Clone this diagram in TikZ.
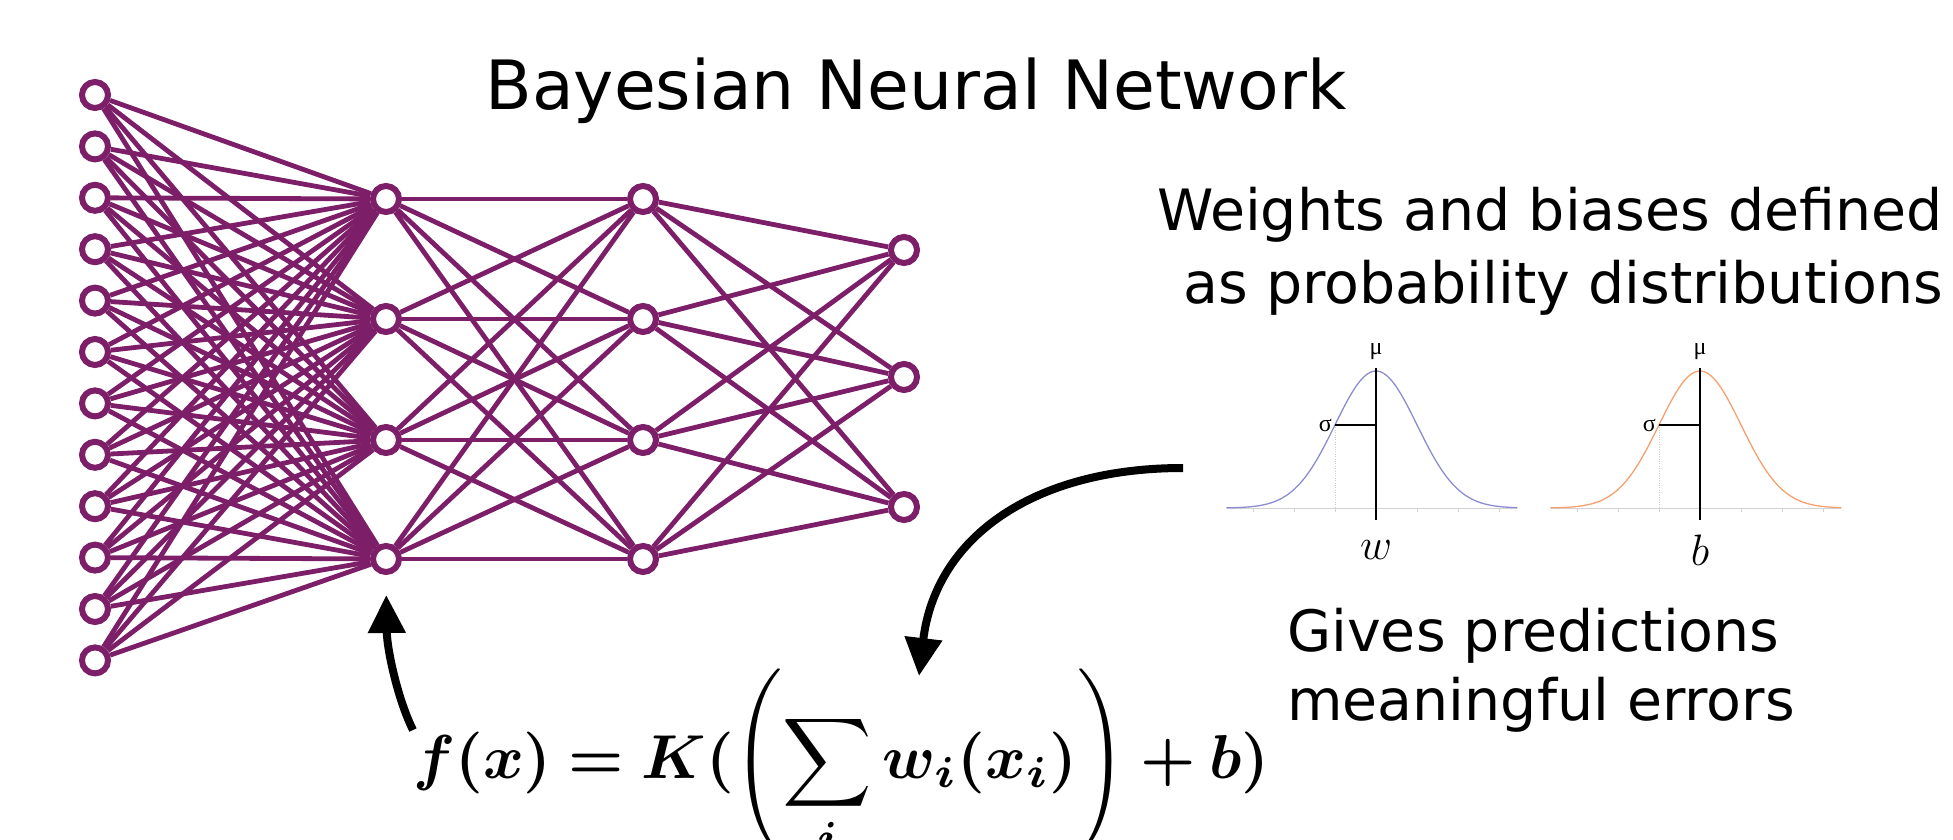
\RequirePackage{fix-cm}
\documentclass[tikz,border=0pt]{standalone}
\usepackage{amsmath}
\usepackage{fontspec}
\usepackage{bm}
\newfontfamily\slidefont{DejaVu Sans}
\newfontfamily\greekfont{Liberation Serif}
\usetikzlibrary{arrows.meta}
\definecolor{netpurple}{RGB}{125,30,105}
\definecolor{wblue}{RGB}{140,140,210}
\definecolor{borange}{RGB}{245,160,110}

\begin{document}
\begin{tikzpicture}[x=1pt, y=-1pt,
    vertex/.style={circle, draw=netpurple, line width=6pt, fill=white, minimum size=26pt, inner sep=0pt},
    link/.style={netpurple, line width=4.8pt},
    bigarrow/.style={line width=8pt, -{Triangle[length=38pt,width=36pt]}},
    slide/.style={font=\slidefont\fontsize{57}{68}\selectfont, inner sep=0pt},
    heading/.style={font=\slidefont\fontsize{68}{80}\selectfont, inner sep=0pt},
    greek/.style={font=\greekfont\fontsize{24}{28}\selectfont, inner sep=0pt},
    varlabel/.style={font=\fontsize{44}{50}\selectfont, inner sep=0pt},
    gauss/.style={line width=1.3pt},
    axisline/.style={gray!35, line width=1pt}
    ]
    \useasboundingbox (0,0) rectangle (1953,840);

    \node[heading, anchor=base] (title) at (916,110) {Bayesian Neural Network};

    % input layer
    \node[vertex] (in1) at (95,95) {};
    \node[vertex] (in2) at (95,146.4) {};
    \node[vertex] (in3) at (95,197.8) {};
    \node[vertex] (in4) at (95,249.2) {};
    \node[vertex] (in5) at (95,300.6) {};
    \node[vertex] (in6) at (95,352) {};
    \node[vertex] (in7) at (95,403.4) {};
    \node[vertex] (in8) at (95,454.8) {};
    \node[vertex] (in9) at (95,506.2) {};
    \node[vertex] (in10) at (95,557.6) {};
    \node[vertex] (in11) at (95,609) {};
    \node[vertex] (in12) at (95,660.4) {};

    % hidden layers
    \node[vertex] (ha1) at (386,199) {};
    \node[vertex] (ha2) at (386,319) {};
    \node[vertex] (ha3) at (386,440) {};
    \node[vertex] (ha4) at (386,559) {};

    \node[vertex] (hb1) at (643,199) {};
    \node[vertex] (hb2) at (643,319) {};
    \node[vertex] (hb3) at (643,440) {};
    \node[vertex] (hb4) at (643,559) {};

    % output layer
    \node[vertex] (out1) at (904,250) {};
    \node[vertex] (out2) at (904,377) {};
    \node[vertex] (out3) at (904,507) {};

    \foreach \a in {1,...,12} \foreach \b in {1,...,4} \draw[link] (in\a) -- (ha\b);
    \foreach \a in {1,...,4} \foreach \b in {1,...,4} \draw[link] (ha\a) -- (hb\b);
    \foreach \a in {1,...,4} \foreach \b in {1,...,3} \draw[link] (hb\a) -- (out\b);

    \node[slide, anchor=base east] (wline1) at (1943,230) {Weights and biases defined};
    \node[slide, anchor=base east] (wline2) at (1943,303) {as probability distributions};

    % weight distribution
    \draw[axisline] (1227,508) -- (1517,508);
    \foreach \k in {-3,...,3} \draw[axisline] ({1376+41*\k},508) -- ({1376+41*\k},512);
    \draw[gray!40, dotted] (1335,425) -- (1335,508);
    \draw[wblue, gauss] plot[domain=-3.65:3.45, samples=90] ({1376+41*\x}, {508-137*exp(-0.5*(\x)*(\x))});
    \draw[line width=1.2pt] (1376,368) -- (1376,520);
    \draw[line width=1.2pt] (1335,425) -- (1376,425);
    \node[greek] (muw) at (1376,352) {μ};
    \node[greek, anchor=east] (sigw) at (1332,425) {σ};
    \node[varlabel] (wlab) at (1376,550) {$w$};

    % bias distribution
    \draw[axisline] (1551,508) -- (1841,508);
    \foreach \k in {-3,...,3} \draw[axisline] ({1700+41*\k},508) -- ({1700+41*\k},512);
    \draw[gray!40, dotted] (1659,425) -- (1659,508);
    \draw[borange, gauss] plot[domain=-3.65:3.45, samples=90] ({1700+41*\x}, {508-137*exp(-0.5*(\x)*(\x))});
    \draw[line width=1.2pt] (1700,368) -- (1700,520);
    \draw[line width=1.2pt] (1659,425) -- (1700,425);
    \node[greek] (mub) at (1700,352) {μ};
    \node[greek, anchor=east] (sigb) at (1656,425) {σ};
    \node[varlabel] (blab) at (1700,550) {$b$};

    \node[slide, anchor=base west] (gline1) at (1287,651) {Gives predictions};
    \node[slide, anchor=base west] (gline2) at (1287,720) {meaningful errors};

    \node[anchor=base west, inner sep=0pt] (formula) at (413,778)
        {\scalebox{6.2}{$\displaystyle \bm{f(x) = K(}\left(\sum_{\bm{i}} \bm{w_i(x_i)}\right) \bm{+ b)}$}};

    \coordinate (ftail) at (413,730);
    \coordinate (wtail) at (1183,468);
    \coordinate (wtip) at (919,676);
    \draw[bigarrow, shorten >=20pt] (ftail) .. controls (398,700) and (387,650) .. (ha4.south);
    \draw[bigarrow] (wtail) .. controls (1030,468) and (935,540) .. (wtip);
\end{tikzpicture}
\end{document}
